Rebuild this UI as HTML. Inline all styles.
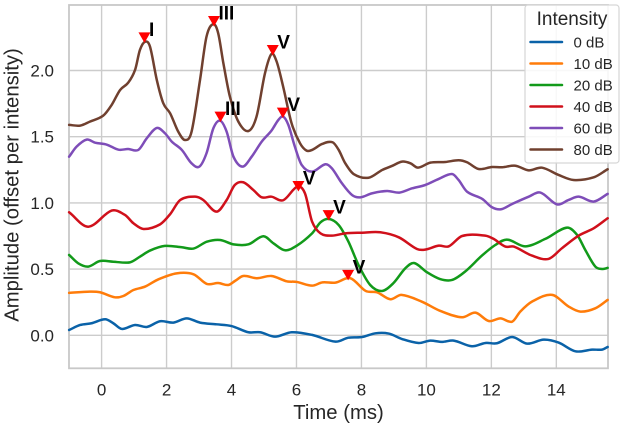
<!DOCTYPE html>
<html>
<head>
<meta charset="utf-8">
<style>
html,body{margin:0;padding:0;background:#fff;}
svg{display:block;font-family:"Liberation Sans",Arial,sans-serif;}
</style>
</head>
<body>
<svg id="chart" width="624" height="429" viewBox="0 0 624 429" xmlns="http://www.w3.org/2000/svg"></svg>
<script>
const xTicks = [0,2,4,6,8,10,12,14];
const yTicks = [0,0.5,1,1.5,2];
const yTickLabels = ["0.0","0.5","1.0","1.5","2.0"];
const seriesNames = ["0 dB","10 dB","20 dB","40 dB","60 dB","80 dB"];
const seriesColors = ["#0a62a8","#ff7c0a","#129a1a","#d0101b","#7e4db8","#70402f"];

const t0 = [-1,-.66,-.31,.11,.36,.62,1.03,1.39,1.8,2.21,2.62,3.03,3.54,4,4.52,4.88,5.34,5.85,6.48,7.2,7.6,8.02,8.43,8.84,9.25,9.76,10.12,10.48,10.84,11.4,11.82,12.17,12.64,13.1,13.61,14.07,14.59,15.1,15.41,15.58];
const v0 = [.04,.078,.091,.121,.091,.048,.078,.063,.106,.096,.128,.096,.083,.07,.023,.023,-.01,.023,.003,-.048,-.018,-.013,.015,.013,-.028,-.058,-.04,-.05,-.04,-.083,-.058,-.06,-.013,-.063,-.033,-.055,-.121,-.108,-.108,-.088];

const t10 = [-1,-.36,-.05,.41,.67,.98,1.34,1.75,2.31,2.83,3.24,3.59,3.9,4.11,4.36,4.78,5.23,5.7,6.01,6.48,6.8,7.2,7.66,8.13,8.48,8.89,9.23,9.86,10.43,11.1,11.51,11.92,12.28,12.64,12.89,13.25,13.87,14.38,14.74,15.2,15.58];
const v10 = [.32,.33,.325,.287,.297,.342,.368,.423,.468,.461,.388,.395,.38,.411,.448,.431,.448,.408,.403,.375,.4,.398,.431,.335,.325,.272,.305,.254,.184,.136,.171,.108,.128,.103,.179,.254,.305,.217,.179,.204,.267];

const t20 = [-1,-.72,-.41,-.05,.36,.87,1.18,1.49,1.95,2.47,2.83,3.24,3.65,4.06,4.52,4.98,5.29,5.65,6.01,6.48,6.74,6.99,7.3,7.6,7.91,8.27,8.63,8.98,9.35,9.62,10.02,10.42,10.79,11.19,11.71,12.12,12.48,13.04,13.66,14.33,14.64,14.89,15.2,15.41,15.58];
const v20 = [.607,.544,.519,.561,.556,.551,.594,.64,.675,.665,.655,.707,.72,.687,.687,.748,.695,.642,.677,.77,.853,.879,.833,.707,.531,.38,.335,.393,.506,.546,.476,.425,.418,.481,.602,.682,.723,.672,.728,.813,.758,.645,.519,.501,.509];

const t40 = [-1,-.41,.31,.72,.98,1.29,1.8,2.11,2.42,2.88,3.13,3.54,3.85,4.1,4.36,4.67,4.93,5.23,5.59,6.03,6.26,6.48,6.74,7.09,7.5,8.02,8.58,9.15,9.71,9.96,10.38,10.69,11.1,11.81,12.07,12.43,12.69,13.25,13.76,14.17,14.69,15.15,15.58];
const v40 = [.929,.82,.942,.909,.846,.803,.838,.915,1.022,1.047,1.022,.934,1.022,1.135,1.156,1.098,1.042,1.047,1.02,1.123,1.073,.859,.77,.753,.77,.775,.778,.74,.652,.647,.677,.672,.75,.753,.728,.67,.67,.602,.577,.657,.753,.808,.884];

const t60 = [-1,-.77,-.46,-.2,.16,.52,.82,1.13,1.39,1.7,1.95,2.16,2.47,2.77,3.01,3.23,3.44,3.65,3.85,4.06,4.34,4.62,4.93,5.23,5.44,5.59,5.75,5.95,6.16,6.48,6.89,7.09,7.4,7.71,7.96,8.32,8.79,9.17,9.56,9.96,10.38,10.79,10.99,11.25,11.72,12.02,12.3,12.64,13.15,13.51,14.02,14.38,14.69,15.15,15.58];
const v60 = [1.349,1.425,1.478,1.455,1.44,1.402,1.407,1.4,1.488,1.566,1.526,1.463,1.4,1.299,1.274,1.375,1.563,1.621,1.538,1.349,1.274,1.349,1.463,1.546,1.626,1.652,1.589,1.425,1.287,1.236,1.292,1.261,1.148,1.06,1.042,1.072,1.09,1.078,1.11,1.135,1.181,1.218,1.173,1.085,1.03,.967,.952,.992,1.047,1.078,.989,1.022,1.047,1.01,1.068];

const t80 = [-1,-.66,-.36,.05,.31,.57,.82,1.03,1.18,1.34,1.49,1.7,1.9,2.11,2.36,2.57,2.77,3.03,3.23,3.44,3.59,3.75,3.95,4.21,4.52,4.77,5.03,5.23,5.39,5.59,5.85,6.11,6.31,6.48,6.79,7.11,7.3,7.5,7.76,8.22,8.64,8.94,9.25,9.51,9.74,10.12,10.58,10.99,11.25,11.61,12.02,12.33,12.74,13.15,13.56,14.07,14.53,15.15,15.58];
const v80 = [1.589,1.584,1.614,1.659,1.74,1.853,1.908,2.004,2.155,2.218,2.18,1.928,1.752,1.677,1.538,1.475,1.538,1.928,2.256,2.351,2.281,2.054,1.803,1.614,1.543,1.652,1.979,2.125,2.067,1.878,1.601,1.45,1.395,1.4,1.445,1.458,1.4,1.3,1.218,1.19,1.249,1.279,1.312,1.299,1.266,1.304,1.309,1.322,1.307,1.256,1.271,1.269,1.281,1.246,1.266,1.211,1.173,1.193,1.254];

const seriesTimes = [t0,t10,t20,t40,t60,t80];
const seriesValues = [v0,v10,v20,v40,v60,v80];

const peakLabels = ["I","III","V","III","V","V","V","V"];
const peakTimes = [1.32,3.46,5.27,3.66,5.58,6.06,6.99,7.59];
const peakValues = [2.25,2.374,2.155,1.652,1.682,1.128,.908,.456];

const NS = "http://www.w3.org/2000/svg";
const svg = document.getElementById("chart");
const plotL = 69, plotR = 608, plotT = 5, plotB = 368.3;
const sx = t => 101.6 + t * 32.48;
const sy = v => 335.3 - v * 132.4;
function make(tag, attrs, text, parent) {
  const el = document.createElementNS(NS, tag);
  for (const k in attrs) el.setAttribute(k, attrs[k]);
  if (text !== undefined) el.textContent = text;
  (parent || svg).appendChild(el);
  return el;
}
function curve(ts, vs) {
  const p = ts.map((t, i) => [sx(t), sy(vs[i])]);
  const n = p.length;
  const slope = i => {
    const a = p[Math.max(0, i - 1)], c = p[Math.min(n - 1, i + 1)];
    return (c[1] - a[1]) / (c[0] - a[0]);
  };
  let d = "M" + p[0][0].toFixed(2) + " " + p[0][1].toFixed(2);
  for (let i = 0; i < n - 1; i++) {
    const b = p[i], c = p[i + 1], h = (c[0] - b[0]) / 3;
    d += "C" + (b[0] + h).toFixed(2) + " " + (b[1] + slope(i) * h).toFixed(2) + " " + (c[0] - h).toFixed(2) + " " + (c[1] - slope(i + 1) * h).toFixed(2) + " " + c[0].toFixed(2) + " " + c[1].toFixed(2);
  }
  return d;
}
make("rect", {x: 0, y: 0, width: 624, height: 429, fill: "#fff"});

xTicks.forEach(t => {
  const line = make("line", {x1: sx(t), x2: sx(t), y1: plotT, y2: plotB, stroke: "#cccccc", "stroke-width": 1.4});
  
  
  const label = make("text", {x: sx(t), y: 395.5, "text-anchor": "middle", "font-size": 17, fill: "#262626"}, String(t));
  
  
});
yTicks.forEach((v, i) => {
  const line = make("line", {x1: plotL, x2: plotR, y1: sy(v), y2: sy(v), stroke: "#cccccc", "stroke-width": 1.4});
  
  
  const label = make("text", {x: 54, y: sy(v) + 6, "text-anchor": "end", "font-size": 17, fill: "#262626"}, yTickLabels[i]);
  
  
});
const frame = make("rect", {x: plotL, y: plotT, width: plotR - plotL, height: plotB - plotT, fill: "none", stroke: "#c8c8c8", "stroke-width": 1.8});



seriesNames.forEach((name, i) => {
  const path = make("path", {d: curve(seriesTimes[i], seriesValues[i]), fill: "none", stroke: seriesColors[i], "stroke-width": 2.5, "stroke-linejoin": "round", "stroke-linecap": "round"});
  
  
});

peakLabels.forEach((lab, i) => {
  const x = sx(peakTimes[i]), y = sy(peakValues[i]);
  const tri = make("polygon", {points: (x - 6) + "," + (y - 5) + " " + (x + 6) + "," + (y - 5) + " " + x + "," + (y + 5.5), fill: "#ff0000"});
  
  
  const txt = make("text", {x: x + 4.5, y: y - 1.5, "font-size": 19, "font-weight": "bold", fill: "#000"}, lab);
  
  
});

const xTitle = make("text", {x: 338.5, y: 419, "text-anchor": "middle", "font-size": 20.3, fill: "#262626"}, "Time (ms)");


const yTitle = make("text", {transform: "translate(18.5,185) rotate(-90)", "text-anchor": "middle", "font-size": 20.3, fill: "#262626"}, "Amplitude (offset per intensity)");



const legend = make("g", {});


make("rect", {x: 525, y: 5, width: 94, height: 158, rx: 3, fill: "#fff", "fill-opacity": 0.85, stroke: "#d6d6d6", "stroke-width": 1.2}, undefined, legend);
const legendTitle = make("text", {x: 572, y: 25, "text-anchor": "middle", "font-size": 19, fill: "#262626"}, "Intensity", legend);


seriesNames.forEach((name, i) => {
  const y = 42 + i * 21.5;
  const key = make("line", {x1: 530.5, x2: 562, y1: y, y2: y, stroke: seriesColors[i], "stroke-width": 2.5, "stroke-linecap": "round"}, undefined, legend);
  
  
  const label = make("text", {x: 573.5, y: y + 5.5, "font-size": 15, fill: "#262626"}, name, legend);
  
  
});
</script>
</body>
</html>
